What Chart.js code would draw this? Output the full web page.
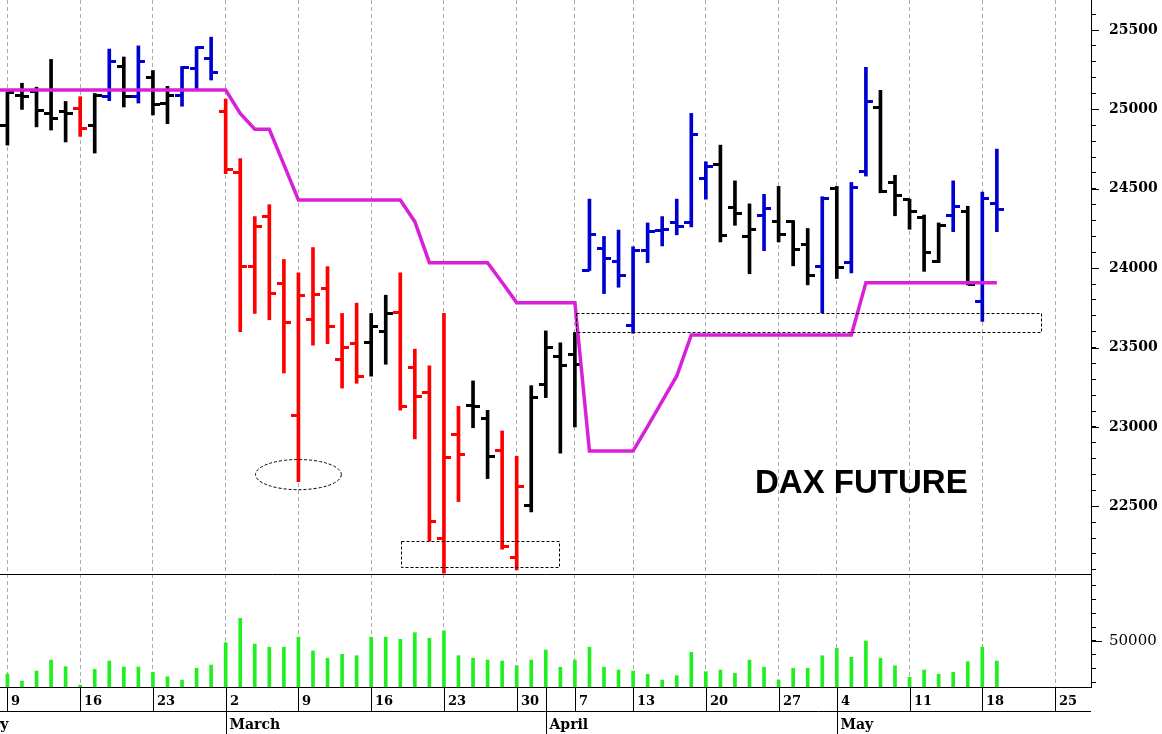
<!DOCTYPE html>
<html>
<head>
<meta charset="utf-8">
<script src="https://cdn.jsdelivr.net/npm/chart.js@4/dist/chart.umd.min.js"></script>
<style>
html,body{margin:0;padding:0;background:#fff;overflow:hidden}
#wrap{position:relative;width:1162px;height:734px}
canvas{display:block}
</style>
</head>
<body>
<div id="wrap"><canvas id="c" width="1162" height="734"></canvas></div>
<script>
const _ = null;
// trading days (MM-DD); first five and last six have no bars
const dates = ["02-02","02-03","02-04","02-05","02-06",
"02-09","02-10","02-11","02-12","02-13","02-16","02-17","02-18","02-19","02-20","02-23","02-24","02-25","02-26","02-27",
"03-02","03-03","03-04","03-05","03-06","03-09","03-10","03-11","03-12","03-13","03-16","03-17","03-18","03-19","03-20","03-23","03-24","03-25","03-26","03-27","03-30","03-31",
"04-01","04-02","04-07","04-08","04-09","04-10","04-13","04-14","04-15","04-16","04-17","04-20","04-21","04-22","04-23","04-24","04-27","04-28","04-29","04-30",
"05-04","05-05","05-06","05-07","05-08","05-11","05-12","05-13","05-14","05-15","05-18","05-19",
"05-20","05-21","05-22","05-25","05-26","05-27"];

const open = [_,_,_,_,_,
24900,25090,25110,24975,24985, 25005,24900,25080,25270,25080, 25200,25040,25090,25260,25320,
24985,24600,24010,24325,23905, 23075,23675,23875,23425,23525, 23535,23600,23720,23375,23215, 22295,22950,23135,23055,22850, 22175,22505,
23265,23445,23455, 23985,24125,24040, 23640,24110,24240,24285,24285, 24565,24655,24385,24200,24330, 24295,24295,24150,24010,
24500,24035,24610,25015,24540, 24430,24320,24040,24330,24355, 23790,24410,
_,_,_,_,_,_];

const high = [_,_,_,_,_,
25110,25165,25140,25315,25050, 25080,25100,25380,25330,25400, 25245,25145,25270,25395,25455,
25065,24690,24325,24400,24055, 23970,24130,24010,23715,23780, 23715,23830,23970,23490,23385, 23715,23130,23290,23105,22975, 22815,23260,
23605,23530,23595, 24435,24200,24240, 24135,24285,24325,24435,24975, 24670,24775,24550,24405,24465, 24515,24300,24250,24450,
24515,24540,25265,25120,24585, 24435,24335,24285,24550,24390, 24480,24750,
_,_,_,_,_,_];

const low = [_,_,_,_,_,
24775,25000,24890,24870,24795, 24830,24725,25055,25015,25040, 24965,24910,25020,25120,25185,
24595,23600,23715,23675,23340, 22655,23515,23525,23245,23275, 23320,23395,23105,22925,22280, 22080,22530,22995,22675,22230, 22100,22465,
23185,22835,23000, 23985,23840,23880, 23590,24035,24140,24210,24260, 24435,24165,24270,23965,24110, 24165,24015,23895,23720,
23935,23970,24580,24475,24330, 24245,23980,24035,24230,23895, 23665,24230,
_,_,_,_,_,_];

const close = [_,_,_,_,_,
25105,25080,24990,24945,24975, 24880,25090,25300,25080,25300, 25030,25090,25265,25390,25235,
24620,24010,24260,23840,23655, 23825,23835,23630,23500,23315, 23630,23715,23130,23190,22405, 22805,22825,23130,22815,22245, 22625,23185,
23500,23390,23395, 24215,24060,23955, 24110,24230,24245,24265,24840, 24640,24205,24345,24245,24375, 24210,24120,23955,24440,
24005,24505,25050,24480,24455, 24355,24100,24270,24390,23900, 24440,24370,
_,_,_,_,_,_];

const volume = [_,_,_,_,_,
26300,21200,28400,36300,31500, 18300,29600,35600,31300,31300, 27500,24300,21900,30400,32700,
48800,66300,47800,45500,45500, 52700,42800,37600,40400,39400, 52700,52700,51200,56000,51900, 57200,39400,37600,36300,35600, 32200,36300,
43500,31100,36300, 45500,31100,29100, 28400,26000,21900,25000,41900, 27900,29100,26800,36300,31100, 21900,30400,30400,39400,
44700,38300,50000,37600,32200, 23900,29100,26000,27500,35100, 45500,35600,
_,_,_,_,_,_];

// trailing stop line
const stop = [_,_,_,_,25122,
25122,25122,25122,25122,25122, 25122,25122,25122,25122,25122, 25122,25122,25122,25122,25122,
25122,24975,24875,24875,24652, 24430,24430,24430,24430,24430, 24430,24430,24430,24293,24035, 24035,24035,24035,24035,23910, 23783,23783,
23783,23783,23783, 22849,22849,22849, 22849,23004,23162,23321,23579, 23579,23579,23579,23579,23579, 23579,23579,23579,23579,
23579,23579,23909,23909,23909, 23909,23909,23909,23909,23909, 23909,23909,
_,_,_,_,_,_];

// signal state: 1 = long, -1 = short, 0 = neutral
const signal = [_,_,_,_,_,
0,0,0,0,0, -1,0,1,0,1, 0,0,1,1,1,
-1,-1,-1,-1,-1, -1,-1,-1,-1,-1, 0,0,-1,-1,-1, -1,-1,0,0,-1, -1,0,
0,0,0, 1,1,1, 1,1,1,1,1, 1,0,0,0,1, 0,0,0,1,
0,1,1,0,0, 0,0,0,1,0, 1,1,
_,_,_,_,_,_];

const weekStarts = ["02-09","02-16","02-23","03-02","03-09","03-16","03-23","03-30","04-07","04-13","04-20","04-27","05-04","05-11","05-18","05-25"];
const weekLabels = ["9","16","23","2","9","16","23","30","7","13","20","27","4","11","18","25"];
const monthStarts = ["02-02","03-02","04-01","05-04"];
const monthNames = ["February","March","April","May"];
const priceTickLabels = [22500,23000,23500,24000,24500,25000,25500];
const volumeTickLabels = [50000];
const title = "DAX FUTURE";

// highlighted zones (date index / price)
const boxes = [
  {x0: 32.05, x1: 42.93, y0: 22120, y1: 22282},
  {x0: 44.1, x1: 76.0, y0: 23595, y1: 23720}
];
const ellipses = [{cx: 25, cy: 22700, rx: 2.95, ry: 95}];

// ---------- layout constants ----------
const X_MIN = 4.49, X_MAX = 79.47;
const P_MIN = 22074, P_MAX = 25689;
const V_MIN = 16900, V_MAX = 98200;

const COLORS = {"1": "#0000d0", "-1": "#ff0000", "0": "#000000"};
const colorOf = s => COLORS[String(s)];

function tickImg(color, side) {
  const c = document.createElement('canvas');
  c.width = 14; c.height = 3;
  const g = c.getContext('2d');
  g.fillStyle = color;
  g.fillRect(side < 0 ? 0 : 7, 0, 7, 3);
  return c;
}
const openImgs = {}, closeImgs = {};
Object.keys(COLORS).forEach(k => { openImgs[k] = tickImg(COLORS[k], -1); closeImgs[k] = tickImg(COLORS[k], 1); });

const idx = d => dates.indexOf(d);
const weekIdx = weekStarts.map(idx);
const monthIdx = monthStarts.map(idx);

const rangeData = [], openData = [], closeData = [], volData = [], stopData = [];
dates.forEach((d, i) => {
  if (high[i] != null) {
    rangeData.push({x: i, y: [low[i], high[i]], s: signal[i]});
    openData.push({x: i, y: open[i], s: signal[i]});
    closeData.push({x: i, y: close[i], s: signal[i]});
  }
  if (volume[i] != null) volData.push({x: i, y: volume[i]});
  if (stop[i] != null) stopData.push({x: i, y: stop[i]});
});

const noPad = ax => { ax.paddingTop = 0; ax.paddingBottom = 0; ax.paddingLeft = 0; ax.paddingRight = 0; };

const tablePlugin = {
  id: 'table',
  afterDraw(chart) {
    const {ctx, chartArea: a, scales} = chart;
    const x = scales.x;
    const y0 = Math.round(a.bottom), y1 = y0 + 24, y2 = chart.height;
    const X = v => Math.round(x.getPixelForValue(v)) + 0.5;
    ctx.save();
    ctx.strokeStyle = '#000'; ctx.lineWidth = 1; ctx.setLineDash([]);
    ctx.beginPath();
    ctx.moveTo(a.left, y1 + 0.5); ctx.lineTo(a.right, y1 + 0.5);
    weekIdx.forEach(i => { const p = X(i); ctx.moveTo(p, y0); ctx.lineTo(p, y1); });
    monthIdx.forEach(i => { const p = X(i); ctx.moveTo(p, y0); ctx.lineTo(p, y2); });
    // panel separator
    const ys = Math.round(scales.yv.top) + 0.5;
    ctx.moveTo(a.left, ys); ctx.lineTo(a.right, ys);
    // longer major ticks
    const yA = scales.y, vA = scales.yv;
    priceTickLabels.forEach(v => { const p = Math.round(yA.getPixelForValue(v)) + 0.5; ctx.moveTo(yA.left, p); ctx.lineTo(yA.left + 8, p); });
    volumeTickLabels.forEach(v => { const p = Math.round(vA.getPixelForValue(v)) + 0.5; ctx.moveTo(vA.left, p); ctx.lineTo(vA.left + 11, p); });
    ctx.stroke();
    ctx.fillStyle = '#000'; ctx.textAlign = 'left'; ctx.textBaseline = 'alphabetic';
    ctx.font = 'bold 13px "DejaVu Serif"';
    weekIdx.forEach((i, k) => ctx.fillText(weekLabels[k], X(i) + 3.5, y0 + 18));
    ctx.font = 'bold 14px "DejaVu Serif"';
    monthIdx.forEach((i, k) => ctx.fillText(monthNames[k], X(i) + 3, y1 + 18));
    ctx.restore();
  }
};

const notesPlugin = {
  id: 'notes',
  afterDatasetsDraw(chart) {
    const {ctx, scales: {x, y}} = chart;
    ctx.save();
    ctx.strokeStyle = '#000'; ctx.lineWidth = 1; ctx.setLineDash([3, 2]);
    boxes.forEach(b => {
      const l = Math.round(x.getPixelForValue(b.x0)) + 0.5, r = Math.round(x.getPixelForValue(b.x1)) + 0.5;
      const t = Math.round(y.getPixelForValue(b.y1)) + 0.5, bt = Math.round(y.getPixelForValue(b.y0)) + 0.5;
      ctx.strokeRect(l, t, r - l, bt - t);
    });
    ellipses.forEach(e => {
      const cx = x.getPixelForValue(e.cx), cy = y.getPixelForValue(e.cy);
      const rx = Math.abs(x.getPixelForValue(e.cx + e.rx) - cx), ry = Math.abs(y.getPixelForValue(e.cy + e.ry) - cy);
      ctx.beginPath(); ctx.ellipse(cx, cy, rx, ry, 0, 0, Math.PI * 2); ctx.stroke();
    });
    ctx.setLineDash([]);
    ctx.fillStyle = '#000';
    ctx.font = 'bold 33px "Liberation Sans"';
    ctx.textAlign = 'left'; ctx.textBaseline = 'alphabetic';
    ctx.fillText(title, 755, 493);
    ctx.restore();
  }
};

new Chart(document.getElementById('c'), {
  type: 'scatter',
  data: {
    datasets: [
      {type: 'line', label: 'stop', data: stopData, yAxisID: 'y', borderColor: '#d820d8', borderWidth: 3.5,
       pointRadius: 0, tension: 0, showLine: true, fill: false, order: 0},
      {type: 'scatter', label: 'open', data: openData, yAxisID: 'y', pointRadius: 1, pointBorderWidth: 0,
       pointStyle: c => openImgs[String(c.raw.s)], order: 1},
      {type: 'scatter', label: 'close', data: closeData, yAxisID: 'y', pointRadius: 1, pointBorderWidth: 0,
       pointStyle: c => closeImgs[String(c.raw.s)], order: 1},
      {type: 'bar', label: 'range', data: rangeData, yAxisID: 'y', barThickness: 3, grouped: false,
       backgroundColor: c => colorOf(c.raw ? c.raw.s : 0), borderWidth: 0, order: 2},
      {type: 'bar', label: 'volume', data: volData, yAxisID: 'yv', barThickness: 3, grouped: false,
       backgroundColor: '#20f020', borderWidth: 0, order: 3}
    ]
  },
  options: {
    responsive: false, devicePixelRatio: 1, animation: false, events: [],
    layout: {padding: 0, autoPadding: false},
    plugins: {legend: {display: false}, tooltip: {enabled: false}},
    scales: {
      x: {
        type: 'linear', position: 'bottom', min: X_MIN, max: X_MAX, offset: false,
        afterBuildTicks: ax => { ax.ticks = weekIdx.map(v => ({value: v})); },
        ticks: {display: false},
        grid: {color: '#aaaaaa', lineWidth: 1, drawTicks: false, offset: false},
        border: {display: true, color: '#000', width: 1, dash: [4, 3]},
        afterFit: ax => { ax.height = 47; noPad(ax); }
      },
      y: {
        type: 'linear', position: 'right', stack: 'r', stackWeight: 574, min: P_MIN, max: P_MAX,
        afterBuildTicks: ax => { const t = []; for (let v = 22100; v <= 25600; v += 100) t.push({value: v}); ax.ticks = t; },
        ticks: {autoSkip: false, padding: 13, color: '#000',
          font: {family: 'DejaVu Serif', weight: 'bold', size: 14},
          callback: v => priceTickLabels.includes(v) ? String(v) : ''},
        grid: {drawOnChartArea: false, drawTicks: true, tickLength: 5, tickColor: '#000', tickWidth: 1},
        border: {display: true, color: '#000', width: 1},
        afterFit: ax => { ax.width = 71; noPad(ax); }
      },
      yv: {
        type: 'linear', position: 'right', stack: 'r', stackWeight: 113, min: V_MIN, max: V_MAX,
        afterBuildTicks: ax => { const t = []; for (let v = 20000; v <= 90000; v += 10000) t.push({value: v}); ax.ticks = t; },
        ticks: {autoSkip: false, padding: 13, color: '#000',
          font: {family: 'DejaVu Serif', size: 15},
          callback: v => volumeTickLabels.includes(v) ? String(v) : ''},
        grid: {drawOnChartArea: false, drawTicks: true, tickLength: 5, tickColor: '#000', tickWidth: 1},
        border: {display: true, color: '#000', width: 1},
        afterFit: ax => { ax.width = 71; noPad(ax); }
      }
    }
  },
  plugins: [tablePlugin, notesPlugin]
});
</script>
</body>
</html>
